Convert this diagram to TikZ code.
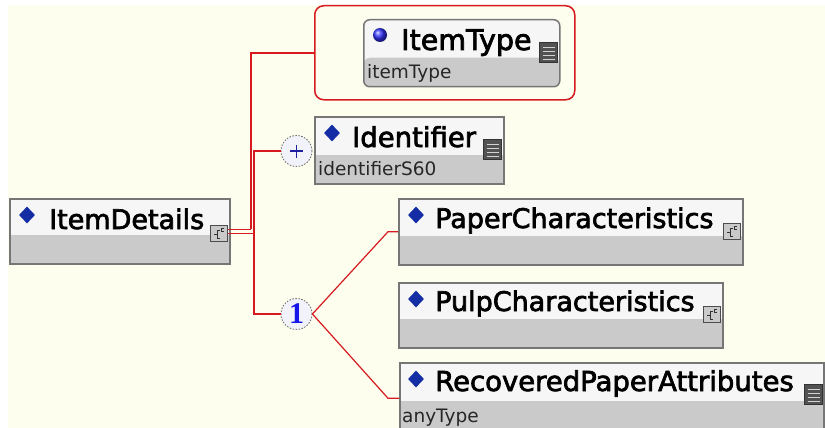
\documentclass[tikz,border=0pt]{standalone}
\usepackage{fontspec}
\setmainfont{DejaVu Sans}
\newfontfamily\titlefont[FakeBold=2.5]{DejaVu Sans}
\newfontfamily\numfont{Liberation Serif}
\usetikzlibrary{shapes.geometric}
\definecolor{bg}{RGB}{254,254,238}
\definecolor{boxtop}{RGB}{246,246,246}
\definecolor{boxbot}{RGB}{202,202,202}
\definecolor{boxline}{RGB}{118,118,118}
\definecolor{conn}{RGB}{214,26,32}
\definecolor{diam}{RGB}{20,45,165}
\definecolor{circfill}{RGB}{242,242,250}
\definecolor{plusblue}{RGB}{30,30,160}
\definecolor{oneblue}{RGB}{20,20,235}
\begin{document}
\begin{tikzpicture}[x=1pt,y=-1pt,
  elbox/.style={draw=boxline, line width=1.5pt, fill=boxtop, inner sep=0pt, anchor=north west,
    path picture={\fill[boxbot] ([yshift=29pt]path picture bounding box.south west) rectangle (path picture bounding box.south east);}},
  title/.style={font=\titlefont\fontsize{27}{30}\selectfont, text=black, inner sep=0pt, anchor=base west},
  subtitle/.style={font=\fontsize{18.5}{20}\selectfont, text=black!85, inner sep=0pt, anchor=base west},
  eldiam/.style={diamond, fill=diam, minimum width=16pt, minimum height=17pt, inner sep=0pt},
  cicon/.style={draw=black!70, line width=0.9pt, fill=boxbot, minimum width=17pt, minimum height=16pt, inner sep=0pt, anchor=north east,
    path picture={
      \coordinate (cc) at (path picture bounding box.center);
      \draw[black!80, line width=0.8pt] ([shift={(1,-3)}]cc) -- ([shift={(-2,-3)}]cc) -- ([shift={(-2,5)}]cc) -- ([shift={(1,5)}]cc);
      \draw[black!80, line width=0.8pt] ([shift={(-5,1)}]cc) -- ([shift={(-2,1)}]cc);
      \draw[black!80, line width=0.6pt] ([shift={(5,-5)}]cc) -- ([shift={(2.5,-5)}]cc) -- ([shift={(2.5,-2)}]cc) -- ([shift={(5,-2)}]cc);
    }},
  sicon/.style={draw=black!80, line width=0.8pt, fill=black!68, minimum width=18pt, minimum height=20pt, inner sep=0pt, anchor=north east,
    path picture={
      \coordinate (sc) at (path picture bounding box.center);
      \foreach \k in {-5,-1,3,7}{\draw[white!65!gray, line width=1.2pt] ([shift={(-6,\k)}]sc) -- ([shift={(6,\k)}]sc);}
    }},
  grpcirc/.style={circle, draw=black!55, dash pattern=on 1.5pt off 1.5pt, line width=0.9pt, fill=circfill, minimum size=31pt, inner sep=0pt},
  wire/.style={draw=conn, line width=1.8pt},
  thinwire/.style={draw=conn, line width=1.2pt}
]
\useasboundingbox (0,0) rectangle (825,428);
\fill[white] (0,0) rectangle (825,428);
\fill[bg] (8,5) rectangle (825,428);

% ItemDetails
\node[elbox, minimum width=220pt, minimum height=65pt] (itemdetails) at (9,198) {};
\node[eldiam] (d-itemdetails) at (27,215) {};
\node[title] (t-itemdetails) at (49,229) {ItemDetails};
\node[cicon] (ic-itemdetails) at (228,225) {};

% ItemType group
\node[draw=conn, line width=1.5pt, rounded corners=9pt, minimum width=260pt, minimum height=94pt, anchor=north west, inner sep=0pt] (grp) at (314,5) {};
\node[elbox, rounded corners=6pt, minimum width=196pt, minimum height=67pt] (itemtype) at (363,19) {};
\node[circle, ball color=blue!80, minimum size=14pt, inner sep=0pt] (b-itemtype) at (380,35) {};
\node[title, font=\titlefont\fontsize{28.5}{30}\selectfont] (t-itemtype) at (401,50) {ItemType};
\node[subtitle] (s-itemtype) at (367,79) {itemType};
\node[sicon] (ic-itemtype) at (558,42) {};

% Identifier
\node[elbox, minimum width=189pt, minimum height=67pt] (identifier) at (314,116) {};
\node[eldiam] (d-identifier) at (332,133) {};
\node[title, font=\titlefont\fontsize{27.5}{30}\selectfont] (t-identifier) at (352,147) {Identifier};
\node[subtitle] (s-identifier) at (318,175) {identifierS60};
\node[sicon] (ic-identifier) at (502,139) {};

% Paper
\node[elbox, minimum width=344pt, minimum height=66pt] (paper) at (398,198) {};
\node[eldiam] (d-paper) at (416,215) {};
\node[title] (t-paper) at (435,228) {PaperCharacteristics};
\node[cicon] (ic-paper) at (741,223) {};

% Pulp
\node[elbox, minimum width=324pt, minimum height=65pt] (pulp) at (398,282) {};
\node[eldiam] (d-pulp) at (416,299) {};
\node[title] (t-pulp) at (435,311) {PulpCharacteristics};
\node[cicon] (ic-pulp) at (721,306) {};

% Recovered
\node[elbox, minimum width=424pt, minimum height=67pt] (recovered) at (399,362) {};
\node[eldiam] (d-recovered) at (416,379) {};
\node[title, font=\titlefont\fontsize{27.5}{30}\selectfont] (t-recovered) at (435,391) {RecoveredPaperAttributes};
\node[subtitle] (s-recovered) at (402,422) {anyType};
\node[sicon] (ic-recovered) at (823,384) {};

% compositors
\node[grpcirc] (plus) at (296.5,151) {};
\draw[plusblue, line width=1.5pt] ([xshift=-6.5pt]plus.center) -- ([xshift=6.5pt]plus.center) ([yshift=-6.5pt]plus.center) -- ([yshift=6.5pt]plus.center);
\node[grpcirc, font=\numfont\bfseries\fontsize{30}{30}\selectfont, text=oneblue] (one) at (296.5,314) {1};

% connectors
\draw[wire] ([yshift=4pt]ic-itemdetails.east) -- ++(23,0) coordinate (ju);
\draw[wire] (ju) |- (grp.west);
\draw[wire] (ic-itemdetails.east) -- ++(26,0) coordinate (jn);
\draw[wire] (jn) |- (plus.west);
\draw[wire] (jn) |- (one.west);
\draw[thinwire] (one.east) -- ([xshift=-10pt]paper.west) -- (paper.west);
\draw[thinwire] (one.east) -- ([xshift=-11pt,yshift=-2pt]recovered.west) -- ([yshift=-2pt]recovered.west);
\end{tikzpicture}
\end{document}
